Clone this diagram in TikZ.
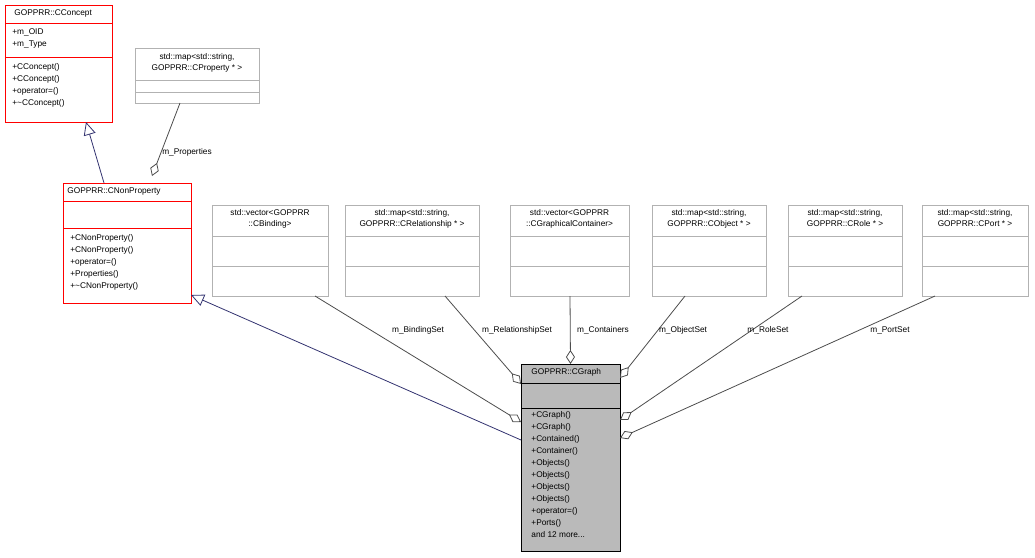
\documentclass[tikz,border=0pt]{standalone}
\usepackage{fontspec}
\setmainfont{Liberation Sans}
\usetikzlibrary{arrows.meta,calc}

\begin{document}
\begin{tikzpicture}[x=1pt,y=-1pt, line width=0.8pt,
    box/.style={draw, inner sep=0pt, outer sep=0pt, anchor=north west},
    redbox/.style={box, draw=red},
    greybox/.style={box, draw=black!30},
    txt/.style={inner sep=0pt, align=left, anchor=north west, font=\fontsize{8.3}{12}\selectfont},
    ctxt/.style={inner sep=0pt, align=center, anchor=north, font=\fontsize{8.3}{11}\selectfont},
    lbl/.style={inner sep=0pt, font=\fontsize{8.3}{9}\selectfont},
    inherit/.style={draw=blue!30!black!80, {Triangle[open,length=13pt,width=12pt]}-},
    member/.style={draw=black!70, {Diamond[open,length=14pt,width=9pt]}-}]
    \useasboundingbox (0,0) rectangle (1035,557);

    % CConcept
    \node[redbox, minimum width=107pt, minimum height=117pt] (concept) at (5,5) {};
    \draw[red] (5,23) -- (112,23);
    \draw[red] (5,57) -- (112,57);
    \node[txt] at (14,9) {GOPPRR::CConcept};
    \node[txt] at (12,28) {+m\_OID\\+m\_Type};
    \node[txt] at (12,63) {+CConcept()\\+CConcept()\\+operator=()\\+\textasciitilde CConcept()};

    % property map
    \node[greybox, minimum width=124pt, minimum height=55pt] (propmap) at (135,48) {};
    \draw[black!30] (135,80) -- (259,80);
    \draw[black!30] (135,92) -- (259,92);
    \node[ctxt] at (197,53) {std::map\textless std::string,\\ GOPPRR::CProperty * \textgreater};

    % CNonProperty
    \node[redbox, minimum width=128pt, minimum height=120pt] (nonprop) at (63,183) {};
    \draw[red] (nonprop.north west) rectangle (nonprop.south east);
    \draw[red] (63,201) -- (191,201);
    \draw[red] (63,228) -- (191,228);
    \node[txt] at (67,187) {GOPPRR::CNonProperty};
    \node[txt] at (70,234) {+CNonProperty()\\+CNonProperty()\\+operator=()\\+Properties()\\+\textasciitilde CNonProperty()};

    % member containers
    \foreach \nm/\xa/\xb/\tx in {
        binding/212/328/{std::vector\textless GOPPRR\\::CBinding\textgreater},
        relmap/345/479/{std::map\textless std::string,\\ GOPPRR::CRelationship * \textgreater},
        contvec/510/629/{std::vector\textless GOPPRR\\::CGraphicalContainer\textgreater},
        objmap/652/766/{std::map\textless std::string,\\ GOPPRR::CObject * \textgreater},
        rolemap/788/902/{std::map\textless std::string,\\ GOPPRR::CRole * \textgreater},
        portmap/922/1028/{std::map\textless std::string,\\ GOPPRR::CPort * \textgreater}} {
      \node[greybox, minimum width=\xb pt-\xa pt, minimum height=91pt] (\nm) at (\xa,205) {};
      \draw[black!30] (\xa,236) -- (\xb,236);
      \draw[black!30] (\xa,266) -- (\xb,266);
      \node[ctxt] at ({(\xa+\xb)/2},209) {\tx};
    }

    % CGraph
    \node[box, fill=black!27, minimum width=99pt, minimum height=187pt] (graph) at (521,364) {};
    \draw (521,383) -- (620,383);
    \draw (521,408) -- (620,408);
    \node[txt] at (531,368) {GOPPRR::CGraph};
    \node[txt] at (531,411) {+CGraph()\\+CGraph()\\+Contained()\\+Container()\\+Objects()\\+Objects()\\+Objects()\\+Objects()\\+operator=()\\+Ports()\\and 12 more...};

    % inheritance
    \draw[inherit] ($(concept.south west)+(81,0)$) -- ($(nonprop.north west)+(41,0)$);
    \draw[inherit] ($(nonprop.south east)+(0,-8)$) -- ($(graph.north west)+(0,76)$);

    % members
    \draw[member] ($(nonprop.north west)+(89,-7)$) -- ($(propmap.south west)+(45,0)$);
    \draw[member] ($(graph.north west)+(0,58)$) -- ($(binding.south west)+(103,0)$);
    \draw[member] ($(graph.north west)+(0,20)$) -- ($(relmap.south west)+(100,0)$);
    \draw[member] (graph.north) -- ($(contvec.south west)+(60,0)$);
    \draw[member] ($(graph.north east)+(0,14)$) -- ($(objmap.south west)+(33,0)$);
    \draw[member] ($(graph.north east)+(0,56)$) -- ($(rolemap.south west)+(14,0)$);
    \draw[member] ($(graph.north east)+(0,74)$) -- ($(portmap.south west)+(13,0)$);

    \node[lbl] (lprop) at (187,152) {m\_Properties};
    \node[lbl] (lbind) at (418,330) {m\_BindingSet};
    \node[lbl] (lrel) at (517,330) {m\_RelationshipSet};
    \node[lbl] (lcont) at (603,330) {m\_Containers};
    \node[lbl] (lobj) at (683,330) {m\_ObjectSet};
    \node[lbl] (lrole) at (768,330) {m\_RoleSet};
    \node[lbl] (lport) at (890,330) {m\_PortSet};
\end{tikzpicture}
\end{document}
